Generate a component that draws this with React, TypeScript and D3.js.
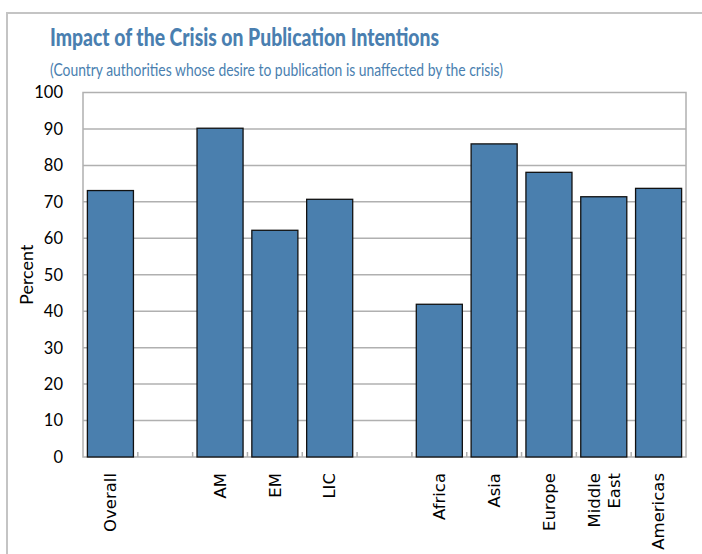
import { useEffect, useRef } from 'react'
import * as d3 from 'd3'

const categories = ['Overall', '', 'AM', 'EM', 'LIC', ' ', 'Africa', 'Asia', 'Europe', 'Middle East', 'Americas']
const values: (number | null)[] = [73.1, null, 90.2, 62.2, 70.7, null, 41.9, 85.9, 78.1, 71.4, 73.7]
const yTicks = [0, 10, 20, 30, 40, 50, 60, 70, 80, 90, 100]

const W = 702
const H = 554

export default function App() {
  const ref = useRef<SVGSVGElement>(null)

  useEffect(() => {
    const svg = d3.select(ref.current)
    svg.selectAll('*').remove()

    const m = { left: 83, right: 686, top: 92.5, bottom: 457 }

    // outer frame
    svg.append('rect')
      .attr('x', 7).attr('y', 13)
      .attr('width', W + 20).attr('height', H + 20)
      .attr('fill', 'white')
      .attr('stroke', '#c4c4c4').attr('stroke-width', 2)

    svg.append('text')
      .attr('x', 50).attr('y', 46)
      .attr('textLength', 389).attr('lengthAdjust', 'spacingAndGlyphs')
      .text('Impact of the Crisis on Publication Intentions')
      .style('font-family', 'Lato, "Open Sans", sans-serif')
      .style('font-weight', 900)
      .style('font-size', '24px')
      .style('fill', '#4a7fb0')

    svg.append('text')
      .attr('x', 50).attr('y', 76)
      .attr('textLength', 453).attr('lengthAdjust', 'spacingAndGlyphs')
      .text('(Country authorities whose desire to publication is unaffected by the crisis)')
      .style('font-family', 'Lato, "Open Sans", sans-serif')
      .style('font-size', '18px')
      .style('fill', '#4a7fb0')

    const x = d3.scaleBand<string>()
      .domain(categories)
      .range([m.left, m.right])
      .paddingInner(0.16)
      .paddingOuter(0.08)

    const y = d3.scaleLinear().domain([0, 100]).range([m.bottom, m.top])

    // plot area
    svg.append('rect')
      .attr('x', m.left).attr('y', m.top)
      .attr('width', m.right - m.left).attr('height', m.bottom - m.top)
      .attr('fill', 'white')
      .attr('stroke', '#b0b0b0').attr('stroke-width', 1.5)

    // gridlines
    svg.append('g')
      .selectAll('line')
      .data(yTicks.filter(t => t > 0 && t < 100))
      .enter()
      .append('line')
      .attr('x1', m.left).attr('x2', m.right)
      .attr('y1', d => y(d)).attr('y2', d => y(d))
      .attr('stroke', '#b0b0b0').attr('stroke-width', 1.5)

    // y tick labels
    svg.append('g')
      .selectAll('text')
      .data(yTicks)
      .enter()
      .append('text')
      .attr('x', 63).attr('y', d => y(d))
      .attr('dy', '0.36em')
      .attr('text-anchor', 'end')
      .text(d => d)
      .style('font-family', 'Lato, "Open Sans", sans-serif')
      .style('font-size', '16.5px')
      .style('fill', '#000')

    svg.append('text')
      .attr('transform', `translate(33,${(m.top + m.bottom) / 2}) rotate(-90)`)
      .attr('text-anchor', 'middle')
      .text('Percent')
      .style('font-family', 'Lato, "Open Sans", sans-serif')
      .style('font-size', '18px')
      .style('fill', '#000')

    // x tick marks at slot boundaries
    const step = x.step()
    svg.append('g')
      .selectAll('line')
      .data(d3.range(1, categories.length))
      .enter()
      .append('line')
      .attr('x1', i => m.left + i * step).attr('x2', i => m.left + i * step)
      .attr('y1', m.bottom).attr('y2', m.bottom - 5)
      .attr('stroke', '#b0b0b0').attr('stroke-width', 1.5)

    // bars
    const data = categories.map((c, i) => ({ c, v: values[i] })).filter(d => d.v !== null)
    svg.append('g')
      .selectAll('rect')
      .data(data)
      .enter()
      .append('rect')
      .attr('x', d => x(d.c)!)
      .attr('y', d => y(d.v as number))
      .attr('width', x.bandwidth())
      .attr('height', d => m.bottom - y(d.v as number))
      .attr('fill', '#4a7fae')
      .attr('stroke', '#111').attr('stroke-width', 1.3)

    // x labels
    const lbl = svg.append('g')
      .selectAll('g')
      .data(categories.filter(c => c.trim() !== ''))
      .enter()
      .append('g')
      .attr('transform', d => `translate(${x(d)! + x.bandwidth() / 2},${m.bottom + 16}) rotate(-90)`)
    lbl.each(function (d) {
      const lines = d === 'Middle East' ? ['Middle', 'East'] : [d]
      const t = d3.select(this).append('text')
        .attr('text-anchor', 'end')
        .style('font-family', '"DejaVu Sans", sans-serif')
        .style('font-weight', 'normal')
        .style('font-size', '16.5px')
        .style('fill', '#000')
      lines.forEach((ln, i) => {
        t.append('tspan')
          .attr('x', 0)
          .attr('y', (i - (lines.length - 1) / 2) * 20)
          .attr('dy', '0.35em')
          .text(ln)
      })
    })
  }, [])

  return (
    <svg ref={ref} width={W} height={H}
      style={{ position: 'absolute', left: 0, top: 0, background: 'white' }} />
  )
}
